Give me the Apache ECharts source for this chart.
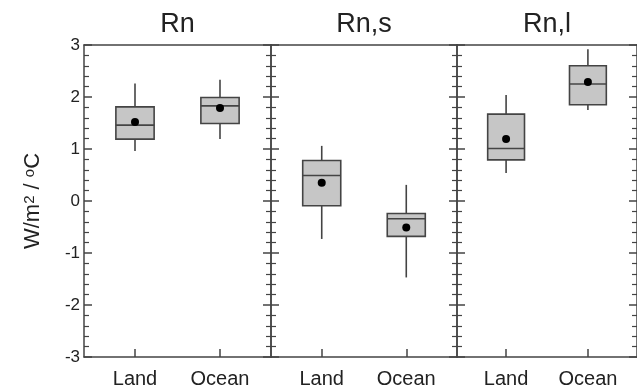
<!DOCTYPE html>
<html>
<head>
<meta charset="utf-8">
<script src="https://cdn.jsdelivr.net/npm/echarts@6/dist/echarts.min.js"></script>
<style>
  html, body { margin: 0; padding: 0; background: #fff; }
  #chart { width: 637px; height: 390px; }
</style>
</head>
<body>
<div id="chart"></div>
<script>
// categories and panel titles
const categories = ["Land", "Ocean"];
const panelTitles = ["Rn", "Rn,s", "Rn,l"];

// box stats per panel: [min, q1, median, q3, max], one row per category
const rnBox = [[0.96, 1.19, 1.46, 1.81, 2.26], [1.19, 1.49, 1.83, 1.99, 2.33]];
const rnMean = [1.52, 1.79];
const rnsBox = [[-0.73, -0.09, 0.49, 0.78, 1.06], [-1.47, -0.68, -0.34, -0.24, 0.31]];
const rnsMean = [0.35, -0.51];
const rnlBox = [[0.54, 0.79, 1.01, 1.67, 2.04], [1.75, 1.85, 2.25, 2.60, 2.92]];
const rnlMean = [1.19, 2.29];

const boxes = [rnBox, rnsBox, rnlBox];
const means = [rnMean, rnsMean, rnlMean];

const ink = "#444";
const font = "Liberation Sans, Arial, sans-serif";
const gridLeft = [84, 271, 457];
const boxWidth = 0.45;

function renderBox(params, api) {
    let x = api.value(0);
    let half = api.size([boxWidth, 0])[0] / 2;
    let pMin = api.coord([x, api.value(1)]);
    let pQ1 = api.coord([x, api.value(2)]);
    let pMed = api.coord([x, api.value(3)]);
    let pQ3 = api.coord([x, api.value(4)]);
    let pMax = api.coord([x, api.value(5)]);
    let pMean = api.coord([x, api.value(6)]);
    let line = { stroke: ink, lineWidth: 1.6 };
    return {
        type: "group",
        children: [
            { type: "line", shape: { x1: pMax[0], y1: pMax[1], x2: pQ3[0], y2: pQ3[1] }, style: line },
            { type: "line", shape: { x1: pQ1[0], y1: pQ1[1], x2: pMin[0], y2: pMin[1] }, style: line },
            { type: "rect", shape: { x: pQ3[0] - half, y: pQ3[1], width: 2 * half, height: pQ1[1] - pQ3[1] },
              style: { fill: "#c6c6c6", stroke: ink, lineWidth: 1.6 } },
            { type: "line", shape: { x1: pMed[0] - half, y1: pMed[1], x2: pMed[0] + half, y2: pMed[1] }, style: line },
            { type: "circle", shape: { cx: pMean[0], cy: pMean[1], r: 4 }, style: { fill: "#000" } }
        ]
    };
}

let grids = [], xAxes = [], yAxes = [], series = [];
panelTitles.forEach(function (title, i) {
    grids.push({ left: gridLeft[i], top: 45, width: i === 0 ? 187 : 186, height: 312 });
    // bottom axis with category labels
    xAxes.push({
        type: "value", gridIndex: i, min: 0.4, max: 2.6, position: "bottom",
        axisLine: { show: true, onZero: false, lineStyle: { color: ink, width: 1.5 } },
        axisTick: { show: true, inside: true, length: 8, customValues: [1, 2], lineStyle: { color: ink, width: 1.5 } },
        axisLabel: { customValues: [1, 2], margin: 12, fontSize: 20, color: "#222", fontFamily: font,
            formatter: function (v) { return categories[Math.round(v) - 1]; } },
        splitLine: { show: false }
    });
    // top axis: frame line + panel title
    xAxes.push({
        type: "value", gridIndex: i, min: 0.4, max: 2.6, position: "top",
        name: title, nameLocation: "middle", nameGap: 7,
        nameTextStyle: { fontSize: 27, color: "#222", fontFamily: font },
        axisLine: { show: true, onZero: false, lineStyle: { color: ink, width: 1.5 } },
        axisTick: { show: false }, axisLabel: { show: false }, splitLine: { show: false }
    });
    ["left", "right"].forEach(function (pos) {
        let showLabel = i === 0 && pos === "left";
        let ax = {
            type: "value", gridIndex: i, position: pos, min: -3, max: 3, interval: 1,
            axisLine: { show: true, onZero: false, lineStyle: { color: ink, width: 1.5 } },
            axisTick: { show: true, inside: true, length: 8, lineStyle: { color: ink, width: 1.5 } },
            minorTick: { show: true, splitNumber: 5, length: 5, lineStyle: { color: ink, width: 1.2 } },
            axisLabel: { show: showLabel, margin: 4, fontSize: 17, color: "#222", fontFamily: font },
            splitLine: { show: false }
        };
        if (showLabel) {
            ax.name = "W/m{sup|2} / {sup|o}C";
            ax.nameLocation = "middle";
            ax.nameGap = 40;
            ax.nameTextStyle = {
                fontSize: 22, color: "#222", fontFamily: font,
                rich: { sup: { fontSize: 15, verticalAlign: "top", color: "#222", fontFamily: font } }
            };
        }
        yAxes.push(ax);
    });
    let data = boxes[i].map(function (b, k) {
        return [k + 1].concat(b).concat([means[i][k]]);
    });
    series.push({
        type: "custom", xAxisIndex: 2 * i, yAxisIndex: 2 * i,
        renderItem: renderBox, data: data,
        encode: { x: 0, y: [1, 2, 3, 4, 5, 6] },
        silent: true
    });
});

let chart = echarts.init(document.getElementById("chart"));
chart.setOption({
    animation: false,
    backgroundColor: "#fff",
    grid: grids,
    xAxis: xAxes,
    yAxis: yAxes,
    series: series
});
</script>
</body>
</html>
